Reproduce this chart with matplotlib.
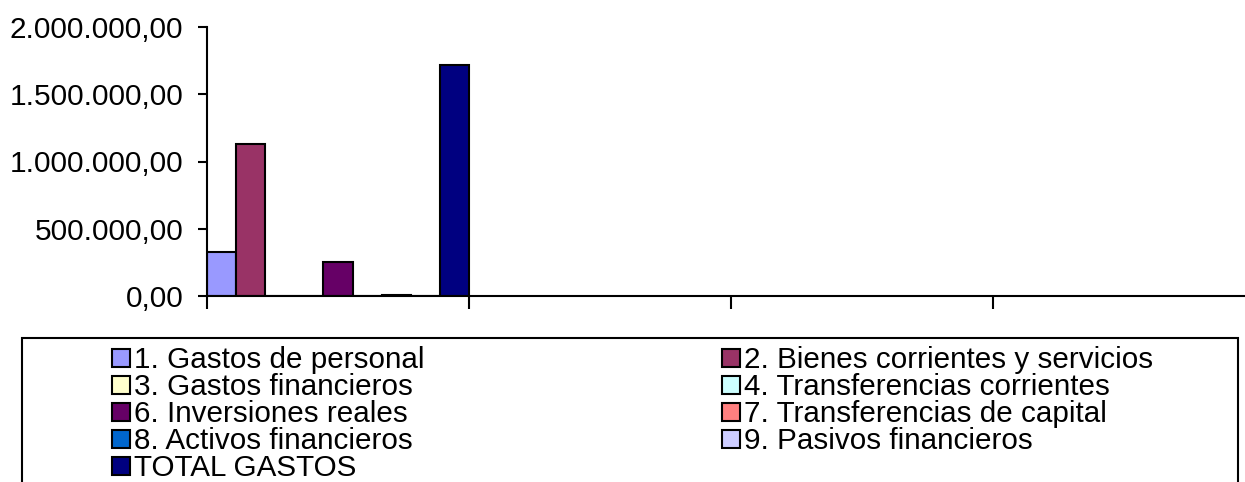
import numpy as np
import matplotlib
matplotlib.use("Agg")
import matplotlib.pyplot as plt
from matplotlib.patches import Rectangle
from matplotlib.ticker import FuncFormatter, MultipleLocator

# --- data ---
categories = ["", "", "", ""]
series = [
    "1. Gastos de personal",
    "2. Bienes corrientes y servicios",
    "3. Gastos financieros",
    "4. Transferencias corrientes",
    "6. Inversiones reales",
    "7. Transferencias de capital",
    "8. Activos financieros",
    "9. Pasivos financieros",
    "TOTAL GASTOS",
]
# only the first category holds values, the rest are blank
values = [
    [330000, np.nan, np.nan, np.nan],
    [1130000, np.nan, np.nan, np.nan],
    [0, np.nan, np.nan, np.nan],
    [0, np.nan, np.nan, np.nan],
    [255000, np.nan, np.nan, np.nan],
    [0, np.nan, np.nan, np.nan],
    [5000, np.nan, np.nan, np.nan],
    [0, np.nan, np.nan, np.nan],
    [1720000, np.nan, np.nan, np.nan],
]
colors = ["#9999FF", "#993366", "#FFFFCC", "#CCFFFF", "#660066",
          "#FF8080", "#0066CC", "#CCCCFF", "#000080"]

plt.rcParams["font.family"] = ["Liberation Sans", "DejaVu Sans"]

W, H = 1245, 482
fig = plt.figure(figsize=(W / 100, H / 100), dpi=100)


def fx(px):
    return px / W


def fy(py):
    return 1 - py / H


# axes: x from 207 px (4 categories of 262 px, runs past the right edge)
ax = fig.add_axes([fx(207), fy(296), fx(262 * 4), (296 - 27) / H])

n = len(series)
w = 1.0 / n
x = np.arange(len(categories))
for i, (name, vals) in enumerate(zip(series, values)):
    ax.bar(x + i * w, vals, width=w, align="edge", color=colors[i],
           edgecolor="black", linewidth=1.5, zorder=2)

ax.set_xlim(0, len(categories))
ax.set_ylim(0, 2000000)
ax.set_xticks(np.arange(len(categories) + 1))
ax.set_xticklabels([])
ax.yaxis.set_major_locator(MultipleLocator(500000))


def fmt(v, pos):
    s = f"{v:,.2f}"
    return s.replace(",", "X").replace(".", ",").replace("X", ".")


ax.yaxis.set_major_formatter(FuncFormatter(fmt))
ax.tick_params(axis="y", length=6.5, width=1.5, pad=10.5, labelsize=21.4,
               direction="out")
ax.tick_params(axis="x", length=9.5, width=1.5, direction="out")
for s in ["top", "right"]:
    ax.spines[s].set_visible(False)
for s in ["left", "bottom"]:
    ax.spines[s].set_linewidth(1.5)
ax.spines["bottom"].set_zorder(3)

# --- legend box (drawn by hand, Excel style) ---
fig.patches.append(Rectangle((fx(22), fy(H + 20)), fx(1238 - 22), (H + 20 - 338) / H,
                             transform=fig.transFigure, fill=False,
                             edgecolor="black", linewidth=1.5))

col_x = [112, 722]
row0_top = 349
row_h = 27
sq = 18
for i, name in enumerate(series):
    r, c = divmod(i, 2)
    top = row0_top + r * row_h
    fig.patches.append(Rectangle((fx(col_x[c]), fy(top + sq)), fx(sq), sq / H,
                                 transform=fig.transFigure,
                                 facecolor=colors[i], edgecolor="black",
                                 linewidth=1.5))
    fig.text(fx(col_x[c] + sq + 4), fy(top + sq + 1), name, fontsize=21.3,
             ha="left", va="baseline")

fig.savefig("out.png", dpi=100)
